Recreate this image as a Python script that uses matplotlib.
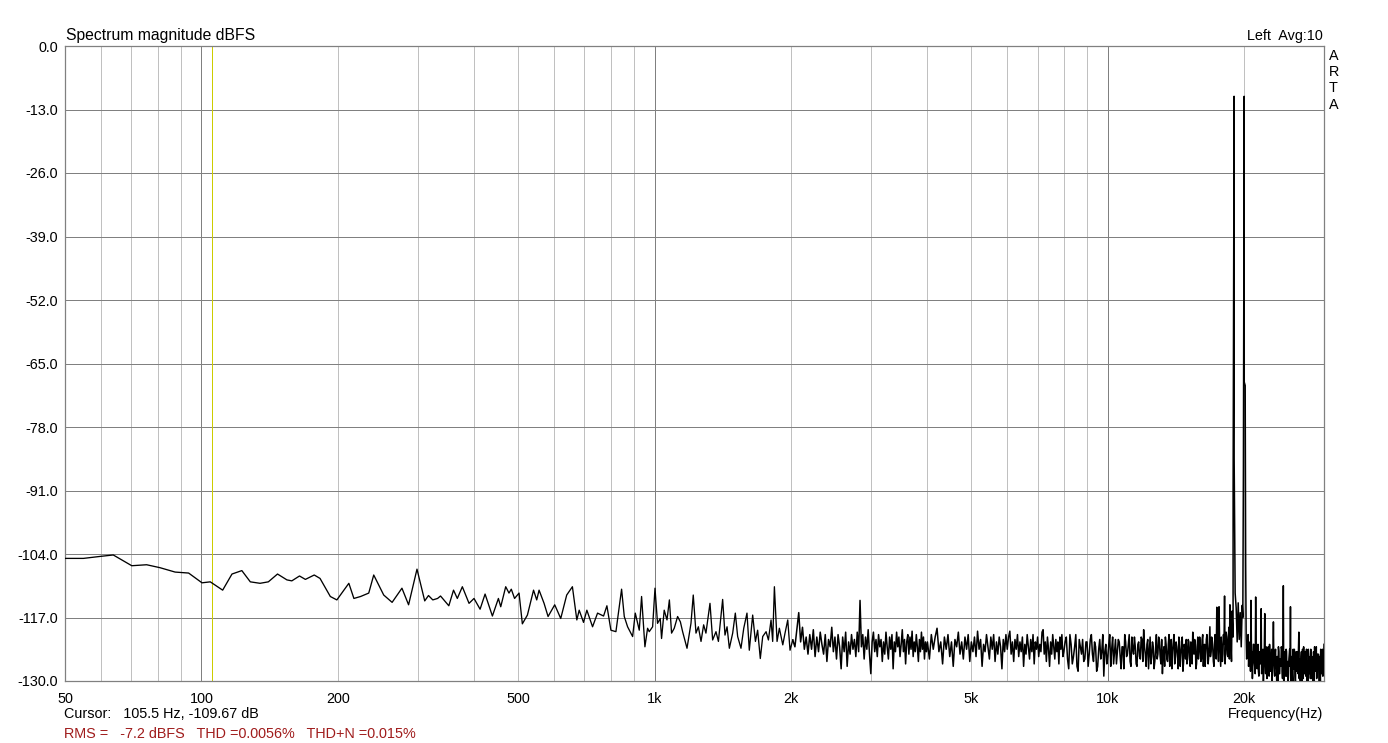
import matplotlib
matplotlib.use("Agg")
import matplotlib.pyplot as plt

plt.rcParams['font.family'] = ['Liberation Sans', 'DejaVu Sans']

# ---------------- data ----------------
low_freq = [50, 54.9, 59.7, 63.9, 70.2, 75.7, 81, 87.5, 93.7, 100.3,
            104.6, 111.4, 116.8, 122.8, 128.2, 134.7, 140.5, 147.2, 154.4, 158.3,
            164.6, 169.6, 177.4, 182.7, 192.5, 199, 211.5, 217, 224.5, 234,
            240, 252.5, 263.5, 277, 286.5, 299, 311, 317, 324, 332,
            337, 351.5, 360, 367, 376.5, 389.5, 399.5, 412, 422.6, 438.6,
            452.2, 457.6, 469.3, 477.2, 482.8, 490.9, 502.2, 510.7, 524, 540.6,
            549.4, 556, 570.3, 582, 602, 620.7, 639.8, 658.6, 673.6, 681.7,
            696.9, 708.8, 729.6, 748.4, 771.6, 784.8, 800.9, 821.6, 845.6, 857.2,
            871.8, 894.3, 906.5]
low_db = [-104.9, -104.9, -104.5, -104.2, -106.4, -106.2, -106.8, -107.7, -107.9, -109.9,
          -109.7, -111.4, -108.1, -107.4, -109.7, -110.0, -109.7, -108.1, -109.3, -109.5,
          -108.5, -109.2, -108.3, -109.0, -112.7, -113.4, -110.0, -113.1, -112.7, -112.0,
          -108.3, -112.4, -113.9, -111.0, -114.4, -107.1, -113.6, -112.5, -113.4, -113.1,
          -112.6, -114.6, -111.4, -113.1, -110.7, -114.1, -113.1, -115.3, -112.2, -116.7,
          -113.1, -114.8, -110.7, -112.0, -111.2, -113.1, -112.0, -118.3, -116.5, -111.4,
          -113.4, -111.4, -114.1, -116.8, -114.4, -117.2, -112.4, -110.7, -117.5, -115.5,
          -118.0, -115.5, -118.9, -116.1, -116.7, -114.6, -119.6, -119.9, -111.2, -116.8,
          -118.9, -120.9, -116.1]

mid_freq = [925, 936, 952, 965, 973, 990, 1002, 1015, 1029, 1036,
            1050, 1065, 1078, 1090, 1105, 1124, 1140, 1153, 1179, 1203,
            1217, 1234, 1249, 1266, 1283, 1298, 1325, 1343, 1366, 1383,
            1413, 1430, 1445, 1462, 1487, 1507, 1525, 1551, 1573, 1599,
            1618, 1646, 1669, 1688, 1711, 1732, 1762, 1783, 1807, 1822,
            1838, 1863, 1885, 1918, 1940, 1967, 1990, 2018]
mid_db = [-119.6, -112.7, -123.0, -119.2, -119.9, -118.9, -111.0, -118.2, -117.2, -121.3,
          -115.5, -117.5, -113.4, -120.2, -119.2, -116.8, -117.9, -119.9, -123.3, -118.2,
          -112.4, -120.2, -118.9, -121.9, -118.5, -120.2, -114.1, -121.6, -119.9, -121.9,
          -113.3, -120.6, -118.9, -123.3, -120.2, -116.1, -120.9, -123.3, -119.2, -116.1,
          -123.7, -116.5, -121.9, -119.6, -125.4, -120.9, -119.9, -121.6, -117.5, -121.9,
          -110.7, -121.9, -119.2, -122.6, -120.2, -117.5, -123.7, -121.6]

n1_freq = [2040, 2060, 2080, 2100, 2120, 2140, 2160, 2180, 2200, 2220,
           2240, 2260, 2280, 2300, 2320, 2340, 2360, 2380, 2400, 2420,
           2440, 2460, 2480, 2500, 2520, 2540, 2560, 2580, 2600, 2620,
           2640, 2660, 2680, 2700, 2720, 2740, 2760, 2780, 2800, 2820,
           2840, 2860, 2880, 2900, 2920, 2940, 2960, 2980, 3000, 3020,
           3040, 3060, 3080, 3100, 3120, 3140, 3160, 3180, 3200, 3220,
           3240, 3260, 3280, 3300, 3320, 3340, 3360, 3380, 3400, 3420,
           3440, 3460, 3480, 3500, 3520, 3540, 3560, 3580, 3600, 3620,
           3640, 3660, 3680, 3700, 3720, 3740, 3760, 3780, 3800, 3820,
           3840, 3860, 3880, 3900, 3920, 3940, 3960, 3980]
n1_db = [-123.0, -119.5, -116.0, -122.0, -119.0, -123.5, -121.0, -124.5, -120.5, -123.5,
         -119.5, -125.0, -121.0, -124.0, -120.0, -122.5, -124.5, -120.5, -126.0, -121.5,
         -123.0, -119.0, -124.0, -121.0, -125.5, -120.5, -123.0, -127.5, -121.0, -124.0,
         -120.0, -127.0, -122.0, -124.5, -120.5, -123.5, -121.5, -125.0, -120.0, -124.0,
         -113.5, -123.0, -120.5, -125.5, -121.0, -123.5, -119.5, -124.5, -128.5, -122.0,
         -120.0, -124.0, -121.5, -125.0, -120.5, -123.0, -121.5, -126.0, -122.0, -124.5,
         -120.0, -123.0, -125.5, -121.0, -123.5, -120.5, -127.5, -122.0, -124.0, -120.0,
         -123.0, -121.0, -125.0, -122.5, -119.5, -124.0, -121.5, -126.5, -122.0, -120.5,
         -124.5, -121.0, -123.5, -119.8, -125.0, -122.0, -124.0, -120.5, -123.0, -126.0,
         -121.5, -124.0, -120.0, -123.5, -121.0, -125.5, -122.0, -124.0]

n2_freq = [4000, 4040, 4080, 4120, 4160, 4200, 4240, 4280, 4320, 4360,
           4400, 4440, 4480, 4520, 4560, 4600, 4640, 4680, 4720, 4760,
           4800, 4840, 4880, 4920, 4960, 5000, 5040, 5080, 5120, 5160,
           5200, 5240, 5280, 5320, 5360, 5400, 5440, 5480, 5520, 5560,
           5600, 5640, 5680, 5720, 5760, 5800, 5840, 5880, 5920, 5960,
           6000, 6040, 6080, 6120, 6160, 6200, 6240, 6280, 6320, 6360,
           6400, 6440, 6480, 6520, 6560, 6600, 6640, 6680, 6720, 6760,
           6800, 6840, 6880, 6920, 6960, 7000, 7040, 7080, 7120, 7160,
           7200, 7240, 7280, 7320, 7360, 7400, 7440, 7480, 7520, 7560,
           7600, 7640, 7680, 7720, 7760, 7800, 7840, 7880, 7920, 7960]
n2_db = [-122.0, -125.5, -120.5, -123.5, -121.0, -119.2, -124.0, -122.0, -126.5, -121.0,
         -123.5, -120.5, -125.0, -122.0, -127.0, -121.5, -123.0, -120.0, -124.5, -122.0,
         -125.5, -121.0, -123.5, -120.5, -126.0, -122.0, -124.0, -121.0, -125.0, -119.8,
         -123.5, -121.5, -127.0, -122.5, -124.0, -120.5, -123.0, -125.5, -121.0, -123.5,
         -120.5, -126.0, -122.0, -124.5, -121.0, -123.0, -127.5, -121.5, -124.0, -120.5,
         -123.5, -121.0, -119.8, -124.5, -122.0, -126.0, -121.5, -123.5, -120.5, -125.0,
         -122.0, -124.0, -121.0, -127.0, -122.5, -124.5, -120.5, -123.0, -125.5, -121.5,
         -124.0, -120.5, -126.5, -122.0, -123.5, -121.0, -125.0, -122.5, -124.0, -120.0,
         -119.5, -124.5, -122.0, -126.0, -121.0, -123.5, -127.0, -122.0, -124.5, -120.5,
         -123.0, -125.5, -121.5, -124.0, -122.0, -126.5, -121.0, -123.5, -120.5, -125.0]

n3_freq = [8000, 8100, 8200, 8300, 8400, 8500, 8600, 8700, 8800, 8900,
           9000, 9100, 9200, 9300, 9400, 9500, 9600, 9700, 9800, 9900,
           10000, 10100, 10200, 10300, 10400, 10500, 10600, 10700, 10800, 10900,
           11000, 11100, 11200, 11300, 11400, 11500, 11600, 11700, 11800, 11900,
           12000, 12100, 12200, 12300, 12400, 12500, 12600, 12700, 12800, 12900,
           13000, 13100, 13200, 13300, 13400, 13500, 13600, 13700, 13800, 13900,
           14000, 14100, 14200, 14300, 14400, 14500, 14600, 14700, 14800, 14900,
           15000, 15100, 15200, 15300, 15400, 15500, 15600, 15700, 15800, 15900,
           16000, 16100, 16200, 16300, 16400, 16500, 16600, 16700, 16800, 16900,
           17000, 17100, 17200, 17300, 17400, 17500, 17600, 17700, 17800, 17900,
           18000, 18100, 18200, 18300, 18400, 18500, 18600, 18700, 18800, 18900]
n3_db = [-124.0, -121.0, -127.5, -122.5, -125.0, -120.5, -128.0, -123.0, -121.5, -125.5,
         -122.0, -124.5, -120.5, -126.0, -123.0, -127.0, -121.5, -124.0, -129.0, -122.5,
         -125.0, -120.5, -123.5, -126.5, -121.5, -124.0, -122.0, -127.5, -123.0, -120.5,
         -125.0, -122.5, -126.0, -121.0, -124.5, -123.0, -127.0, -122.0, -125.5, -121.5,
         -119.5, -124.5, -122.5, -127.5, -121.0, -125.0, -123.0, -126.0, -120.5, -124.5,
         -122.0, -126.5, -128.5, -123.0, -121.0, -125.5, -122.5, -127.0, -121.5, -124.0,
         -120.5, -125.0, -123.0, -127.5, -122.0, -124.5, -121.0, -126.0, -123.5, -121.5,
         -125.5, -122.0, -127.0, -123.0, -120.0, -124.5, -122.5, -126.5, -121.0, -124.0,
         -122.5, -125.5, -120.5, -124.0, -127.0, -121.5, -123.5, -125.0, -118.9, -124.0,
         -121.5, -126.0, -122.5, -124.5, -114.9, -123.0, -114.8, -124.5, -121.0, -126.0,
         -120.5, -112.6, -123.5, -121.0, -125.0, -119.0, -114.4, -122.5, -115.7, -121.0]

n3b_freq = [8050, 8150, 8250, 8350, 8450, 8550, 8650, 8750, 8850, 8950,
            9050, 9150, 9250, 9350, 9450, 9550, 9650, 9750, 9850, 9950,
            10050, 10150, 10250, 10350, 10450, 10550, 10650, 10750, 10850, 10950,
            11050, 11150, 11250, 11350, 11450, 11550, 11650, 11750, 11850, 11950,
            12050, 12150, 12250, 12350, 12450, 12550, 12650, 12750, 12850, 12950,
            13050, 13150, 13250, 13350, 13450, 13550, 13650, 13750, 13850, 13950,
            14050, 14150, 14250, 14350, 14450, 14550, 14650, 14750, 14850, 14950,
            15050, 15150, 15250, 15350, 15450, 15550, 15650, 15750, 15850, 15950,
            16050, 16150, 16250, 16350, 16450, 16550, 16650, 16750, 16850, 16950,
            17050, 17150, 17250, 17350, 17450, 17550, 17650, 17750, 17850, 17950,
            18050, 18150, 18250, 18350, 18450, 18550, 18650, 18750, 18850]
n3b_db = [-122.0, -125.5, -120.5, -126.5, -123.0, -127.0, -121.5, -124.5, -126.0, -122.0,
          -127.0, -121.5, -124.5, -122.0, -128.0, -123.5, -125.5, -120.5, -124.0, -126.5,
          -122.5, -127.0, -121.0, -124.0, -126.5, -121.5, -125.0, -123.0, -127.5, -122.0,
          -124.5, -120.5, -127.0, -123.5, -121.0, -126.5, -122.5, -125.0, -121.0, -126.0,
          -123.0, -127.0, -121.5, -124.0, -126.5, -122.0, -127.5, -123.5, -125.5, -121.0,
          -125.0, -121.5, -124.5, -127.0, -122.5, -126.0, -120.5, -124.0, -127.5, -122.0,
          -126.5, -122.0, -125.0, -121.0, -127.0, -123.0, -128.0, -122.5, -125.5, -126.5,
          -121.5, -125.0, -122.0, -126.5, -124.0, -121.5, -127.5, -123.0, -125.5, -121.0,
          -126.0, -121.5, -127.0, -122.5, -124.5, -120.5, -126.5, -122.0, -125.0, -121.0,
          -123.5, -127.0, -120.5, -125.5, -122.0, -126.0, -121.5, -127.0, -123.0, -124.5,
          -122.5, -126.5, -120.0, -124.5, -121.5, -125.5, -122.0, -126.0, -119.5]

tone_freq = [18905, 19000, 19005, 19100, 19200, 19300, 19400, 19500, 19600, 19700,
             19800, 19860, 19920, 20000, 20005, 20100, 20150]
tone_db = [-91.0, -10.3, -84.5, -112.0, -115.0, -122.0, -114.0, -121.5, -116.0, -123.0,
           -114.5, -117.0, -86.6, -10.3, -68.8, -69.5, -106.0]

n4_freq = [20200, 20300, 20400, 20500, 20600, 20700, 20800, 20900, 21000, 21100,
           21200, 21300, 21400, 21500, 21600, 21700, 21800, 21900, 22000, 22100,
           22200, 22300, 22400, 22500, 22600, 22700, 22800, 22900, 23000, 23100,
           23200, 23300, 23400, 23500, 23600, 23700, 23800, 23900, 24000, 24100,
           24200, 24300, 24400, 24500, 24600, 24700, 24800, 24900, 25000, 25100,
           25200, 25300, 25400, 25500, 25600, 25700, 25800, 25900, 26000, 26100,
           26200, 26300, 26400, 26500, 26600, 26700, 26800, 26900, 27000, 27100,
           27200, 27300, 27400, 27500, 27600, 27700, 27800, 27900, 28000, 28100,
           28200, 28300, 28400, 28500, 28600, 28700, 28800, 28900, 29000, 29100,
           29200, 29300, 29400, 29500, 29600, 29700, 29800, 29900, 30000]
n4_db = [-121.0, -124.5, -120.5, -125.0, -122.0, -113.5, -124.0, -126.5, -122.5, -127.0,
         -112.8, -125.5, -123.0, -128.0, -124.0, -126.5, -115.2, -127.5, -123.5, -126.0,
         -116.2, -128.5, -124.0, -126.5, -123.0, -129.0, -125.0, -127.5, -123.5, -126.0,
         -117.9, -128.0, -124.5, -127.0, -130.5, -125.0, -123.0, -128.5, -125.5, -127.0,
         -123.5, -129.5, -110.5, -127.0, -125.0, -129.0, -124.0, -127.5, -130.5, -125.5,
         -123.5, -114.8, -128.0, -125.0, -130.0, -126.0, -123.5, -129.0, -125.5, -127.5,
         -124.0, -128.5, -120.0, -127.0, -130.5, -125.0, -128.0, -123.5, -129.5, -126.0,
         -124.0, -128.0, -125.5, -130.5, -126.0, -123.5, -128.5, -125.0, -129.5, -124.5,
         -127.5, -125.0, -130.0, -126.5, -123.0, -128.0, -125.5, -129.5, -124.5, -127.0,
         -125.0, -130.5, -126.0, -123.5, -128.5, -124.5, -129.0, -126.5, -122.5]

n4b_freq = [20250, 20350, 20450, 20550, 20650, 20750, 20850, 20950, 21050, 21150,
            21250, 21350, 21450, 21550, 21650, 21750, 21850, 21950, 22050, 22150,
            22250, 22350, 22450, 22550, 22650, 22750, 22850, 22950, 23050, 23150,
            23250, 23350, 23450, 23550, 23650, 23750, 23850, 23950, 24050, 24150,
            24250, 24350, 24450, 24550, 24650, 24750, 24850, 24950, 25050, 25150,
            25250, 25350, 25450, 25550, 25650, 25750, 25850, 25950, 26050, 26150,
            26250, 26350, 26450, 26550, 26650, 26750, 26850, 26950, 27050, 27150,
            27250, 27350, 27450, 27550, 27650, 27750, 27850, 27950, 28050, 28150,
            28250, 28350, 28450, 28550, 28650, 28750, 28850, 28950, 29050, 29150,
            29250, 29350, 29450, 29550, 29650, 29750, 29850, 29950]
n4b_db = [-125.5, -122.0, -127.0, -123.5, -128.0, -124.0, -129.5, -122.5, -126.0, -128.5,
          -124.0, -127.5, -122.5, -129.0, -125.0, -123.0, -128.5, -125.5, -130.0, -124.0,
          -126.5, -123.0, -129.5, -125.0, -127.5, -122.5, -128.0, -126.0, -130.5, -124.5,
          -126.0, -129.0, -123.5, -127.5, -125.0, -130.0, -124.0, -128.5, -126.5, -123.0,
          -128.0, -125.5, -130.5, -124.0, -127.0, -123.5, -129.0, -126.0, -128.5, -124.5,
          -127.0, -130.0, -125.0, -128.5, -123.5, -127.5, -125.5, -130.5, -124.0, -128.0,
          -126.0, -123.5, -129.5, -125.5, -128.0, -124.0, -130.0, -126.5, -123.0, -128.5,
          -125.0, -129.0, -123.5, -127.0, -130.5, -124.5, -128.0, -126.0, -123.5, -129.5,
          -126.0, -128.5, -124.0, -130.0, -125.5, -127.5, -123.0, -129.0, -126.5, -124.5,
          -128.0, -125.0, -130.5, -124.0, -127.5, -123.5, -129.0, -126.0]

y_ticks = [0, -13, -26, -39, -52, -65, -78, -91, -104, -117, -130]
y_labels = ['0.0', '-13.0', '-26.0', '-39.0', '-52.0', '-65.0', '-78.0', '-91.0',
            '-104.0', '-117.0', '-130.0']
x_ticks = [50, 100, 200, 500, 1000, 2000, 5000, 10000, 20000]
x_labels = ['50', '100', '200', '500', '1k', '2k', '5k', '10k', '20k']
major_grid = [100, 1000, 10000]
minor_grid = [60, 70, 80, 90, 200, 300, 400, 500, 600, 700, 800, 900,
              2000, 3000, 4000, 5000, 6000, 7000, 8000, 9000, 20000]
cursor_freq = 105.5

# ---------------- figure ----------------
W, H = 1388, 743
L, R, T, B = 65, 1324, 46, 681
fig = plt.figure(figsize=(W / 100, H / 100), dpi=100)
fig.patch.set_facecolor('white')
ax = fig.add_axes([L / W, 1 - B / H, (R - L) / W, (B - T) / H])
ax.set_xscale('log')
ax.set_xlim(50, 30000)
ax.set_ylim(-130, 0)

PX = 0.72  # one pixel in points at 100 dpi
for f in minor_grid:
    ax.axvline(f, color='#c0c0c0', lw=PX, zorder=1, antialiased=False)
for f in major_grid:
    ax.axvline(f, color='#808080', lw=PX, zorder=1, antialiased=False)
for v in y_ticks:
    ax.axhline(v, color='#808080', lw=PX, zorder=1, antialiased=False)
ax.axvline(cursor_freq, color='#cccc00', lw=PX, zorder=2, antialiased=False)

# smooth low part and dense noise part of the same trace
lf_freq = low_freq + mid_freq
lf_db = low_db + mid_db
hf_pairs = sorted(zip(mid_freq[-1:] + n1_freq + n2_freq + n3_freq + n3b_freq
                      + tone_freq + n4_freq + n4b_freq,
                      mid_db[-1:] + n1_db + n2_db + n3_db + n3b_db
                      + tone_db + n4_db + n4b_db))
hf_freq = [p[0] for p in hf_pairs]
hf_db = [p[1] for p in hf_pairs]
ax.plot(lf_freq, lf_db, color='black', lw=0.95, zorder=3)
ax.plot(hf_freq, hf_db, color='black', lw=1.1, zorder=3)

ax.minorticks_off()
ax.set_xticks(x_ticks)
ax.set_xticklabels(x_labels)
ax.set_yticks(y_ticks)
ax.set_yticklabels(y_labels)
ax.tick_params(axis='both', length=0, labelsize=10.4, colors='black')
ax.tick_params(axis='x', pad=8)
ax.tick_params(axis='y', pad=5)
for s in ax.spines.values():
    s.set_color('#808080')
    s.set_linewidth(0.9)


def fx(px):
    return px / W


def fy(py):
    return 1 - py / H


fig.text(fx(66), fy(40), 'Spectrum magnitude dBFS', fontsize=11.3, va='baseline', ha='left')
fig.text(fx(1323), fy(40), 'Left  Avg:10', fontsize=10.4, va='baseline', ha='right')
fig.text(fx(1329), fy(49), 'A\nR\nT\nA', fontsize=10.4, va='top', ha='left', linespacing=1.2)
fig.text(fx(1323), fy(714), 'Frequency(Hz)', fontsize=10.4, va='center', ha='right')
fig.text(fx(64), fy(714), 'Cursor:   105.5 Hz, -109.67 dB', fontsize=10.4, va='center', ha='left')
fig.text(fx(64), fy(734), 'RMS =   -7.2 dBFS   THD =0.0056%   THD+N =0.015%', fontsize=10.4,
         va='center', ha='left', color='#a01c1c')

fig.savefig('out.png', dpi=100)
